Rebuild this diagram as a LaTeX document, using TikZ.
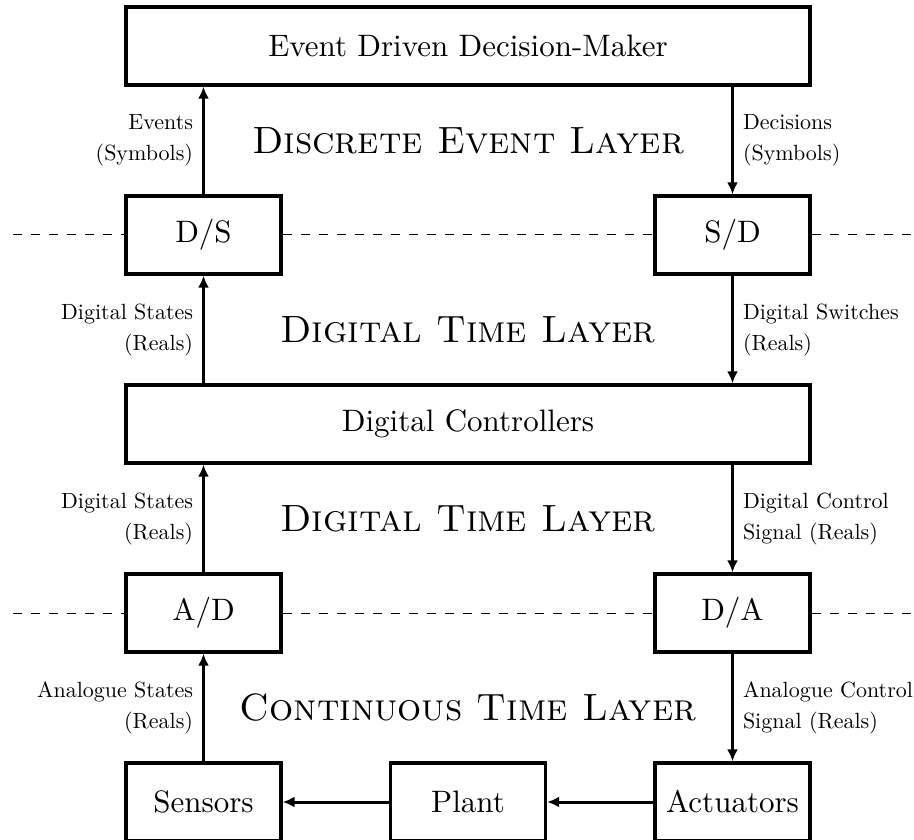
\documentclass[tikz,border=0pt]{standalone}
\usepackage{fontspec}
\setmainfont{lmroman10-regular.otf}[SmallCapsFont=lmromancaps10-regular.otf]
\usetikzlibrary{arrows.meta}
\begin{document}
\begin{tikzpicture}[x=1pt,y=-1pt,
  blk/.style={draw, line width=3.3pt, inner sep=0pt, minimum height=78pt,
    minimum width=155pt, font=\fontsize{31}{36}\selectfont},
  wideblk/.style={blk, minimum width=684pt},
  flow/.style={line width=3pt, -{Latex[length=12pt,width=11pt]}},
  sep/.style={line width=1pt, dash pattern=on 9pt off 9pt},
  lbl/.style={font=\fontsize{22}{31}\selectfont, inner sep=0pt},
  layer/.style={font=\fontsize{38}{40}\selectfont\scshape, inner sep=0pt}]
\useasboundingbox (0,0) rectangle (914,840);

% blocks
\node[wideblk] (edm) at (468,46) {Event Driven Decision-Maker};
\node[blk] (ds) at (203.5,235) {D/S};
\node[blk] (sd) at (732.5,235) {S/D};
\node[wideblk] (dc) at (468,424) {Digital Controllers};
\node[blk] (ad) at (203.5,613) {A/D};
\node[blk] (da) at (732.5,613) {D/A};
\node[blk] (sens) at (203.5,802) {Sensors};
\node[blk] (plant) at (468,802) {Plant};
\node[blk] (act) at (732.5,802) {Actuators};

% layer boundaries
\coordinate (l1) at (13,235);
\coordinate (r1) at (914,235);
\coordinate (l2) at (13,613);
\coordinate (r2) at (914,613);
\draw[sep] (l1) -- (ds.west);
\draw[sep] (ds.east) -- (sd.west);
\draw[sep] (sd.east) -- (r1);
\draw[sep] (l2) -- (ad.west);
\draw[sep] (ad.east) -- (da.west);
\draw[sep] (da.east) -- (r2);

% layer titles
\node[layer] at (468,141) {Discrete Event Layer};
\node[layer] at (468,330) {Digital Time Layer};
\node[layer] at (468,519) {Digital Time Layer};
\node[layer] at (468,708) {Continuous Time Layer};

% upward signals
\draw[flow] (ds.north) -- (ds.north |- edm.south)
  node[lbl, midway, left=9pt, align=right] {Events\\(Symbols)};
\draw[flow] (dc.north -| ds) -- (ds.south)
  node[lbl, midway, left=9pt, align=right] {Digital States\\(Reals)};
\draw[flow] (ad.north) -- (ad.north |- dc.south)
  node[lbl, midway, left=9pt, align=right] {Digital States\\(Reals)};
\draw[flow] (sens.north) -- (ad.south)
  node[lbl, midway, left=9pt, align=right] {Analogue States\\(Reals)};

% downward signals
\draw[flow] (edm.south -| sd) -- (sd.north)
  node[lbl, midway, right=9pt, align=left] {Decisions\\(Symbols)};
\draw[flow] (sd.south) -- (sd.south |- dc.north)
  node[lbl, midway, right=9pt, align=left] {Digital Switches\\(Reals)};
\draw[flow] (dc.south -| da) -- (da.north)
  node[lbl, midway, right=9pt, align=left] {Digital Control\\Signal (Reals)};
\draw[flow] (da.south) -- (act.north)
  node[lbl, midway, right=9pt, align=left] {Analogue Control\\Signal (Reals)};

% plant loop
\draw[flow] (act.west) -- (plant.east);
\draw[flow] (plant.west) -- (sens.east);
\end{tikzpicture}
\end{document}
